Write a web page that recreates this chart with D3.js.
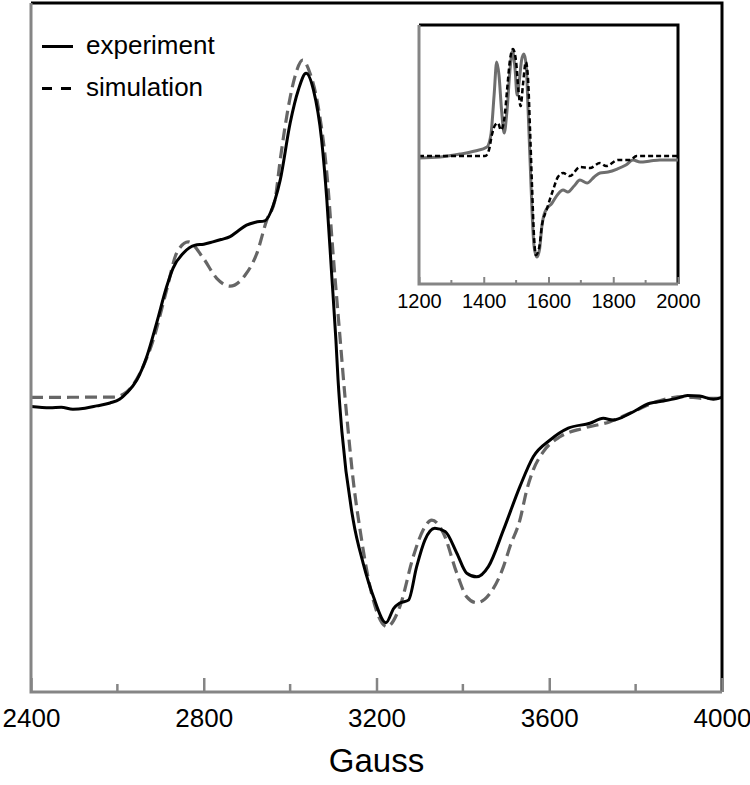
<!DOCTYPE html>
<html>
<head>
<meta charset="utf-8">
<script src="https://cdn.jsdelivr.net/npm/d3@7.9.0/dist/d3.min.js"></script>
<style>
  html, body { margin: 0; padding: 0; background: #fff; }
  svg { display: block; font-family: "Liberation Sans", Arial, sans-serif; }
</style>
</head>
<body>
<svg id="chart" width="750" height="785"></svg>
<script>
// main spectrum: field (Gauss) and signal (arb. units)
const expField = [2400, 2444, 2470, 2497, 2525, 2552, 2583, 2605, 2622, 2645, 2668, 2691, 2714, 2729, 2753, 2780, 2800, 2821, 2840, 2861, 2880, 2899, 2920, 2941, 2965, 2977, 3000, 3019, 3037, 3054, 3073, 3085, 3096, 3106, 3111, 3120, 3146, 3169, 3193, 3222, 3240, 3254, 3274, 3293, 3312, 3335, 3359, 3386, 3409, 3432, 3459, 3494, 3532, 3563, 3602, 3644, 3694, 3725, 3748, 3787, 3833, 3865, 3895, 3920, 3948, 3980, 3999];
const expSignal = [-3.0, -3.4, -3.2, -3.8, -3.5, -2.8, -1.9, -0.8, 1.2, 5.1, 12.2, 22.5, 33.5, 39.2, 43.8, 46.2, 46.5, 47.2, 47.9, 48.8, 50.6, 52.3, 53.2, 53.6, 60.0, 66.0, 83.4, 93.5, 98.6, 93.5, 78.2, 60.0, 37.7, 17.3, 5.1, -10.8, -37.6, -50.7, -61.0, -68.9, -64.5, -62.9, -62.0, -51.8, -43.7, -40.1, -41.1, -47.7, -53.8, -54.9, -51.8, -40.6, -27.4, -18.3, -13.2, -9.6, -8.1, -6.6, -7.1, -5.1, -2.0, -1.3, -0.5, 0.4, 0.2, -0.8, -0.2];

const simField = [2400, 2591, 2622, 2652, 2683, 2714, 2737, 2764, 2799, 2830, 2861, 2896, 2923, 2946, 2965, 2977, 2996, 3011, 3029, 3046, 3065, 3085, 3100, 3116, 3127, 3135, 3146, 3162, 3185, 3224, 3254, 3285, 3308, 3328, 3355, 3386, 3409, 3432, 3463, 3494, 3509, 3532, 3548, 3563, 3586, 3625, 3679, 3741, 3802, 3849, 3910, 3957, 3999];
const simSignal = [-0.2, -0.1, 1.5, 7.1, 17.3, 32.5, 43.7, 47.2, 42.2, 36.1, 33.7, 37.1, 43.7, 53.9, 60.0, 72.1, 88.4, 97.5, 102.6, 98.6, 88.4, 68.1, 42.7, 17.3, 0.0, -11.2, -25.4, -40.6, -57.9, -70.1, -64.0, -48.8, -40.6, -37.6, -41.6, -53.8, -61.0, -62.8, -59.9, -51.8, -45.7, -37.6, -28.4, -22.3, -16.8, -12.2, -9.6, -7.6, -4.1, -1.5, 0.0, -0.5, -0.5];

// inset spectrum
const inExpField = [1200, 1265, 1327, 1373, 1410, 1422, 1432, 1440, 1447, 1455, 1463, 1472, 1481, 1489, 1497, 1503, 1510, 1517, 1524, 1531, 1537, 1543, 1549, 1555, 1564, 1572, 1580, 1589, 1611, 1629, 1645, 1660, 1679, 1697, 1719, 1741, 1759, 1784, 1812, 1839, 1861, 1883, 1914, 1944, 2000];
const inExpSignal = [-0.9, 0.1, 2.9, 5.8, 9.6, 20.9, 58.7, 90.0, 77.7, 44.6, 22.8, 44.6, 82.4, 100.4, 82.4, 58.7, 72.9, 91.9, 97.5, 87.1, 44.6, -2.7, -50.0, -83.1, -94.5, -87.9, -64.2, -52.0, -43.4, -35.0, -31.1, -33.0, -27.3, -21.7, -24.5, -18.8, -15.0, -14.1, -11.3, -7.5, -2.7, -4.6, -3.7, -2.7, -2.7];

const inSimField = [1200, 1404, 1416, 1425, 1435, 1444, 1453, 1463, 1472, 1481, 1490, 1500, 1507, 1514, 1521, 1530, 1537, 1543, 1549, 1555, 1561, 1571, 1580, 1594, 1614, 1629, 1645, 1666, 1697, 1728, 1759, 1778, 1815, 1852, 1872, 2000];
const inSimSignal = [1.0, 1.0, 6.7, 20.9, 30.3, 32.2, 25.6, 35.0, 63.4, 91.9, 102.3, 90.0, 63.4, 48.3, 68.1, 90.0, 72.9, 25.6, -26.4, -73.7, -92.6, -86.0, -64.2, -50.0, -31.1, -18.8, -15.0, -17.9, -9.4, -10.3, -5.6, -8.4, -2.7, -2.7, 1.0, 1.0];

const mainTicks = [2400, 2800, 3200, 3600, 4000];
const mainMinor = [2600, 3000, 3400, 3800];
const insetTicks = [1200, 1400, 1600, 1800, 2000];
const insetMinor = [1300, 1500, 1700, 1900];

const legendLabels = ["experiment", "simulation"];

const svg = d3.select("#chart");
const axisGray = "#858585";

// ---------- main plot ----------
const x = d3.scaleLinear().domain([2400, 4000]).range([31, 722]);
const y = d3.scaleLinear().domain([-90, 120]).range([692, 3]);

// frame: black top/right
svg.append("path")
  .attr("d", `M${x(2400)},${y(120)} H${x(4000)} V${y(-90)}`)
  .attr("fill", "none").attr("stroke", "#000").attr("stroke-width", 3);

const line = d3.line().x(d => x(d[0])).y(d => y(d[1])).curve(d3.curveMonotoneX);

svg.append("path")
  .datum(simField.map((f, i) => [f, simSignal[i]]))
  .attr("d", line)
  .attr("fill", "none").attr("stroke", "#666").attr("stroke-width", 3.2)
  .attr("stroke-dasharray", "12,6");

svg.append("path")
  .datum(expField.map((f, i) => [f, expSignal[i]]))
  .attr("d", line)
  .attr("fill", "none").attr("stroke", "#000").attr("stroke-width", 3);

// left + bottom gray axis lines
svg.append("path")
  .attr("d", `M${x(2400)},${y(120)} V${y(-90)} H${x(4000)}`)
  .attr("fill", "none").attr("stroke", axisGray).attr("stroke-width", 3);

const xAxis = d3.axisBottom(x).tickValues(mainTicks).tickSize(-14).tickPadding(17).tickFormat(d3.format("d"));
const gx = svg.append("g").attr("transform", `translate(0,${y(-90)})`).call(xAxis);
gx.select(".domain").remove();
gx.selectAll(".tick line").attr("stroke", axisGray).attr("stroke-width", 2.5);
gx.selectAll(".tick text").attr("font-size", 26).attr("fill", "#000")
  .attr("font-family", "Liberation Sans, Arial, sans-serif");

svg.append("g").selectAll("line").data(mainMinor).join("line")
  .attr("x1", d => x(d)).attr("x2", d => x(d))
  .attr("y1", y(-90)).attr("y2", y(-90) - 8)
  .attr("stroke", axisGray).attr("stroke-width", 2.5);

svg.append("text")
  .attr("x", (x(2400) + x(4000)) / 2).attr("y", 772)
  .attr("text-anchor", "middle").attr("font-size", 33).attr("fill", "#000")
  .text("Gauss");

// legend
const leg = svg.append("g");
leg.append("line").attr("x1", 42).attr("x2", 73).attr("y1", 46.5).attr("y2", 46.5)
  .attr("stroke", "#000").attr("stroke-width", 3);
leg.append("line").attr("x1", 42).attr("x2", 73).attr("y1", 88.5).attr("y2", 88.5)
  .attr("stroke", "#000").attr("stroke-width", 3).attr("stroke-dasharray", "10,9");
leg.selectAll("text").data(legendLabels).join("text")
  .attr("x", 86).attr("y", (d, i) => 54 + i * 42)
  .attr("font-size", 26).attr("fill", "#000")
  .text(d => d);

// ---------- inset ----------
const ix = d3.scaleLinear().domain([1200, 2000]).range([419, 678]);
const iy = d3.scaleLinear().domain([-120, 125]).range([284, 25]);

svg.append("rect").attr("x", ix(1200)).attr("y", iy(125))
  .attr("width", ix(2000) - ix(1200)).attr("height", iy(-120) - iy(125))
  .attr("fill", "#fff");

svg.append("path")
  .attr("d", `M${ix(1200)},${iy(125)} H${ix(2000)} V${iy(-120)}`)
  .attr("fill", "none").attr("stroke", "#000").attr("stroke-width", 3);

const iline = d3.line().x(d => ix(d[0])).y(d => iy(d[1])).curve(d3.curveMonotoneX);

svg.append("path")
  .datum(inExpField.map((f, i) => [f, inExpSignal[i]]))
  .attr("d", iline)
  .attr("fill", "none").attr("stroke", "#6e6e6e").attr("stroke-width", 3);

svg.append("path")
  .datum(inSimField.map((f, i) => [f, inSimSignal[i]]))
  .attr("d", iline)
  .attr("fill", "none").attr("stroke", "#000").attr("stroke-width", 2.5)
  .attr("stroke-dasharray", "5,3");

svg.append("path")
  .attr("d", `M${ix(1200)},${iy(125)} V${iy(-120)} H${ix(2000)}`)
  .attr("fill", "none").attr("stroke", axisGray).attr("stroke-width", 3);

const ixAxis = d3.axisBottom(ix).tickValues(insetTicks).tickSize(-7).tickPadding(10).tickFormat(d3.format("d"));
const gix = svg.append("g").attr("transform", `translate(0,${iy(-120)})`).call(ixAxis);
gix.select(".domain").remove();
gix.selectAll(".tick line").attr("stroke", axisGray).attr("stroke-width", 2);
gix.selectAll(".tick text").attr("font-size", 20).attr("fill", "#000")
  .attr("font-family", "Liberation Sans, Arial, sans-serif");

svg.append("g").selectAll("line").data(insetMinor).join("line")
  .attr("x1", d => ix(d)).attr("x2", d => ix(d))
  .attr("y1", iy(-120)).attr("y2", iy(-120) - 4)
  .attr("stroke", axisGray).attr("stroke-width", 2);
</script>
</body>
</html>
